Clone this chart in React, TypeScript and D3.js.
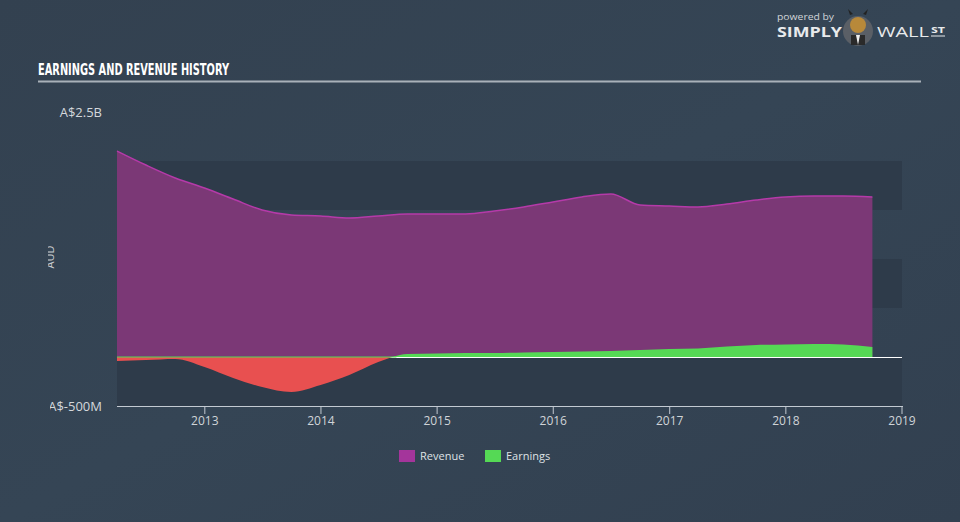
import React from "react";
import * as d3 from "d3";

const dates = [
  "2012-03-31","2012-06-30","2012-09-30","2012-12-31",
  "2013-03-31","2013-06-30","2013-09-30","2013-12-31",
  "2014-03-31","2014-06-30","2014-09-30","2014-12-31",
  "2015-03-31","2015-06-30","2015-09-30","2015-12-31",
  "2016-03-31","2016-06-30","2016-09-30","2016-12-31",
  "2017-03-31","2017-06-30","2017-09-30","2017-12-31",
  "2018-03-31","2018-06-30","2018-09-30",
];
const revenue = [
  2102, 1959, 1827, 1724,
  1612, 1500, 1449, 1439,
  1418, 1439, 1459, 1459,
  1459, 1490, 1531, 1582,
  1633, 1663, 1551, 1541,
  1531, 1561, 1602, 1633,
  1643, 1643, 1633,
];
const earnings = [
  -41, -31, -20, -102,
  -214, -306, -357, -286,
  -184, -51, 31, 36,
  41, 41, 46, 51,
  56, 61, 71, 82,
  87, 107, 122, 128,
  133, 128, 102,
];
const yearTicks = [2013, 2014, 2015, 2016, 2017, 2018, 2019];
const yDomain = [-500, 2500];
const bandStarts = [-500, 500, 1500];
const yLabels = ["A$2.5B", "A$-500M"];
const legendItems = [
  { name: "Revenue", color: "#a4359b" },
  { name: "Earnings", color: "#55d955" },
];

const W = 960, H = 522;
const left = 117, right = 902, top = 112, bottom = 406;

export default function App() {
  const parse = d3.timeParse("%Y-%m-%d");
  const data = dates.map((d, i) => ({ date: parse(d) as Date, rev: revenue[i], earn: earnings[i] }));
  const x = d3.scaleTime()
    .domain([parse("2012-03-31") as Date, new Date(2019, 0, 1)])
    .range([left, right]);
  const y = d3.scaleLinear().domain(yDomain).range([bottom, top]);

  const curve = d3.curveMonotoneX;
  const revArea = d3.area<any>().x(d => x(d.date)).y0(y(0)).y1(d => y(d.rev)).curve(curve);
  const revLine = d3.line<any>().x(d => x(d.date)).y(d => y(d.rev)).curve(curve);
  const earnArea = d3.area<any>().x(d => x(d.date)).y0(y(0)).y1(d => y(d.earn)).curve(curve);

  const x0 = x(data[0].date);
  let crossX = x0;
  for (let i = 1; i < data.length; i++) {
    if (data[i - 1].earn < 0 && data[i].earn >= 0) {
      const a = data[i - 1], b = data[i];
      const t = -a.earn / (b.earn - a.earn);
      crossX = x(a.date) + t * (x(b.date) - x(a.date));
    }
  }

  return (
    <svg width={W} height={H} style={{ display: "block", position: "absolute", left: 0, top: 0 }}>
      <defs>
        <linearGradient id="bg" x1="0" y1="0" x2="1" y2="1">
          <stop offset="0" stopColor="#334150" />
          <stop offset="0.5" stopColor="#354555" />
          <stop offset="1" stopColor="#324050" />
        </linearGradient>
        <clipPath id="above"><rect x={0} y={0} width={W} height={y(0)} /></clipPath>
        <clipPath id="below"><rect x={0} y={y(0)} width={W} height={H} /></clipPath>
        <clipPath id="ylab"><rect x={48} y={0} width={W} height={H} /></clipPath>
        <clipPath id="ylab2"><rect x={50} y={0} width={W} height={H} /></clipPath>
      </defs>
      <rect x={0} y={0} width={W} height={H} fill="url(#bg)" />

      {/* logo */}
      <text x={777} y={19.5} fill="#d0d4d8" fontSize={9} fontFamily="Open Sans, sans-serif" textLength={57} lengthAdjust="spacingAndGlyphs">powered by</text>
      <text x={777} y={37} fill="#e8eaec" fontSize={13.5} fontWeight="bold" fontFamily="Open Sans, sans-serif" textLength={65} lengthAdjust="spacingAndGlyphs">SIMPLY</text>
      <circle cx={858} cy={31} r={15} fill="#5a5f66" />
      <circle cx={858} cy={25} r={8} fill="#b8893a" />
      <path d="M850,15 L848,9 L853,14 Z M866,15 L868,9 L863,14 Z" fill="#222" />
      <rect x={851} y={35} width={14} height={10} fill="#2a2a2a" />
      <path d="M856,35 L858,45 L860,35 Z" fill="#eee" />
      <text x={877} y={37} fill="#e8eaec" fontSize={14} fontFamily="Open Sans, sans-serif" textLength={52} lengthAdjust="spacingAndGlyphs">WALL</text>
      <text x={931} y={33} fill="#e8eaec" fontSize={8} fontWeight="bold" fontFamily="Open Sans, sans-serif" textLength={14} lengthAdjust="spacingAndGlyphs">ST</text>
      <line x1={931} x2={945} y1={36} y2={36} stroke="#e8eaec" strokeWidth={1} />

      {/* title */}
      <text x={38} y={75} fill="#ffffff" fontSize={16} fontWeight="bold" fontFamily="DejaVu Sans Condensed, sans-serif" textLength={191} lengthAdjust="spacingAndGlyphs">EARNINGS AND REVENUE HISTORY</text>
      <line x1={38} x2={921} y1={81.5} y2={81.5} stroke="#a9b1b9" strokeWidth={2} />

      {/* bands */}
      {bandStarts.map(b => (
        <rect key={b} x={left} y={y(b + 500)} width={right - left} height={y(b) - y(b + 500)} fill="#2e3b4a" />
      ))}

      {/* y labels */}
      <g fontFamily="Open Sans, sans-serif" fontSize={13} fill="#d4d8dc">
        <text x={102} y={y(2500)} dy="0.35em" textAnchor="end">{yLabels[0]}</text>
        <g clipPath="url(#ylab2)">
          <text x={102} y={y(-500)} dy="0.35em" textAnchor="end">{yLabels[1]}</text>
        </g>
        <g clipPath="url(#ylab)">
          <text transform={`translate(50,${257}) rotate(-90)`} textAnchor="middle" dy="0.35em" fontSize={11} fill="#c8ccd0">AUD</text>
        </g>
      </g>

      {/* zero line */}
      <line x1={left} x2={right} y1={y(0) + 0.5} y2={y(0) + 0.5} stroke="#ffffff" strokeWidth={1.2} />

      {/* revenue */}
      <path d={revArea(data) || ""} fill="#7b3876" />
      <path d={revLine(data) || ""} fill="none" stroke="#b53aa9" strokeWidth={1.5} />

      {/* earnings */}
      <path d={earnArea(data) || ""} fill="#e85050" clipPath="url(#below)" />
      <path d={earnArea(data) || ""} fill="#55d955" clipPath="url(#above)" />
      <line x1={x0} x2={crossX} y1={y(0)} y2={y(0)} stroke="#55d955" strokeWidth={1.2} />

      {/* x axis */}
      <line x1={left} x2={right + 1} y1={bottom + 0.5} y2={bottom + 0.5} stroke="#c3cad2" strokeWidth={1} />
      {yearTicks.map(yr => {
        const xx = x(new Date(yr, 0, 1));
        return (
          <g key={yr}>
            <line x1={xx} x2={xx} y1={bottom} y2={bottom + 8} stroke="#c3cad2" strokeWidth={1} />
            <text x={xx} y={bottom + 15} dy="0.35em" textAnchor="middle" fill="#d0d4d8" fontSize={12} fontFamily="Open Sans, sans-serif">{yr}</text>
          </g>
        );
      })}

      {/* legend */}
      <g fontFamily="Open Sans, sans-serif" fontSize={11} fill="#dfe2e5">
        <rect x={399} y={450} width={16} height={12} fill={legendItems[0].color} />
        <text x={420} y={456} dy="0.35em">{legendItems[0].name}</text>
        <rect x={485} y={450} width={16} height={12} fill={legendItems[1].color} />
        <text x={506} y={456} dy="0.35em">{legendItems[1].name}</text>
      </g>
    </svg>
  );
}
